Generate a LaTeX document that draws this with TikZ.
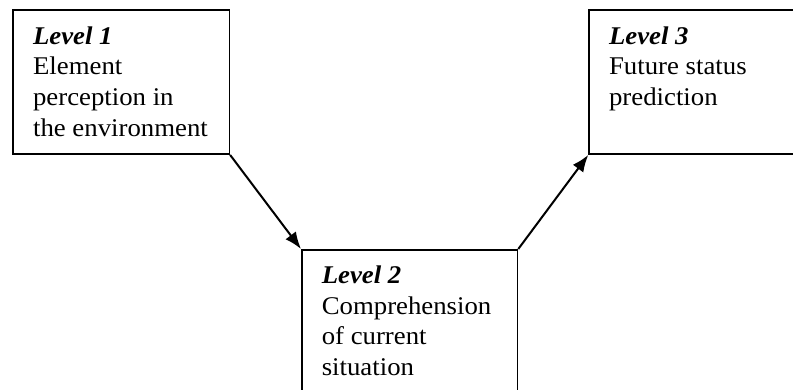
\documentclass[tikz,border=0pt]{standalone}
\usepackage{fontspec}
\setmainfont{Liberation Serif}[FakeStretch=1.05]
\usetikzlibrary{arrows.meta}
\newcommand\lvlbox[3]{\parbox[t][#1][t]{#2}{\leftskip=20pt\fontsize{25.5pt}{30.6pt}\selectfont\rule{0pt}{34pt}#3}}
\begin{document}
\begin{tikzpicture}[x=1pt,y=-1pt,
  box/.style={draw, line width=1.6pt, inner sep=0pt, anchor=north west},
  conn/.style={line width=2pt, -{Latex[length=17pt,width=13pt]}}]
\useasboundingbox (0,0) rectangle (793,390);
\clip (0,0) rectangle (793,390);
\node[box] (l1) at (12.3,9.5) {\lvlbox{143.8pt}{216.2pt}{\textbf{\textit{Level 1}}\\Element\\perception in\\the environment}};
\node[box] (l2) at (301,249) {\lvlbox{170pt}{215.7pt}{\textbf{\textit{Level 2}}\\Comprehension\\of current\\situation}};
\node[box] (l3) at (588.3,9.5) {\lvlbox{143.8pt}{230pt}{\textbf{\textit{Level 3}}\\Future status\\prediction}};
\draw[conn] (l1.south east) -- (l2.north west);
\draw[conn] (l2.north east) -- (l3.south west);
\end{tikzpicture}
\end{document}
